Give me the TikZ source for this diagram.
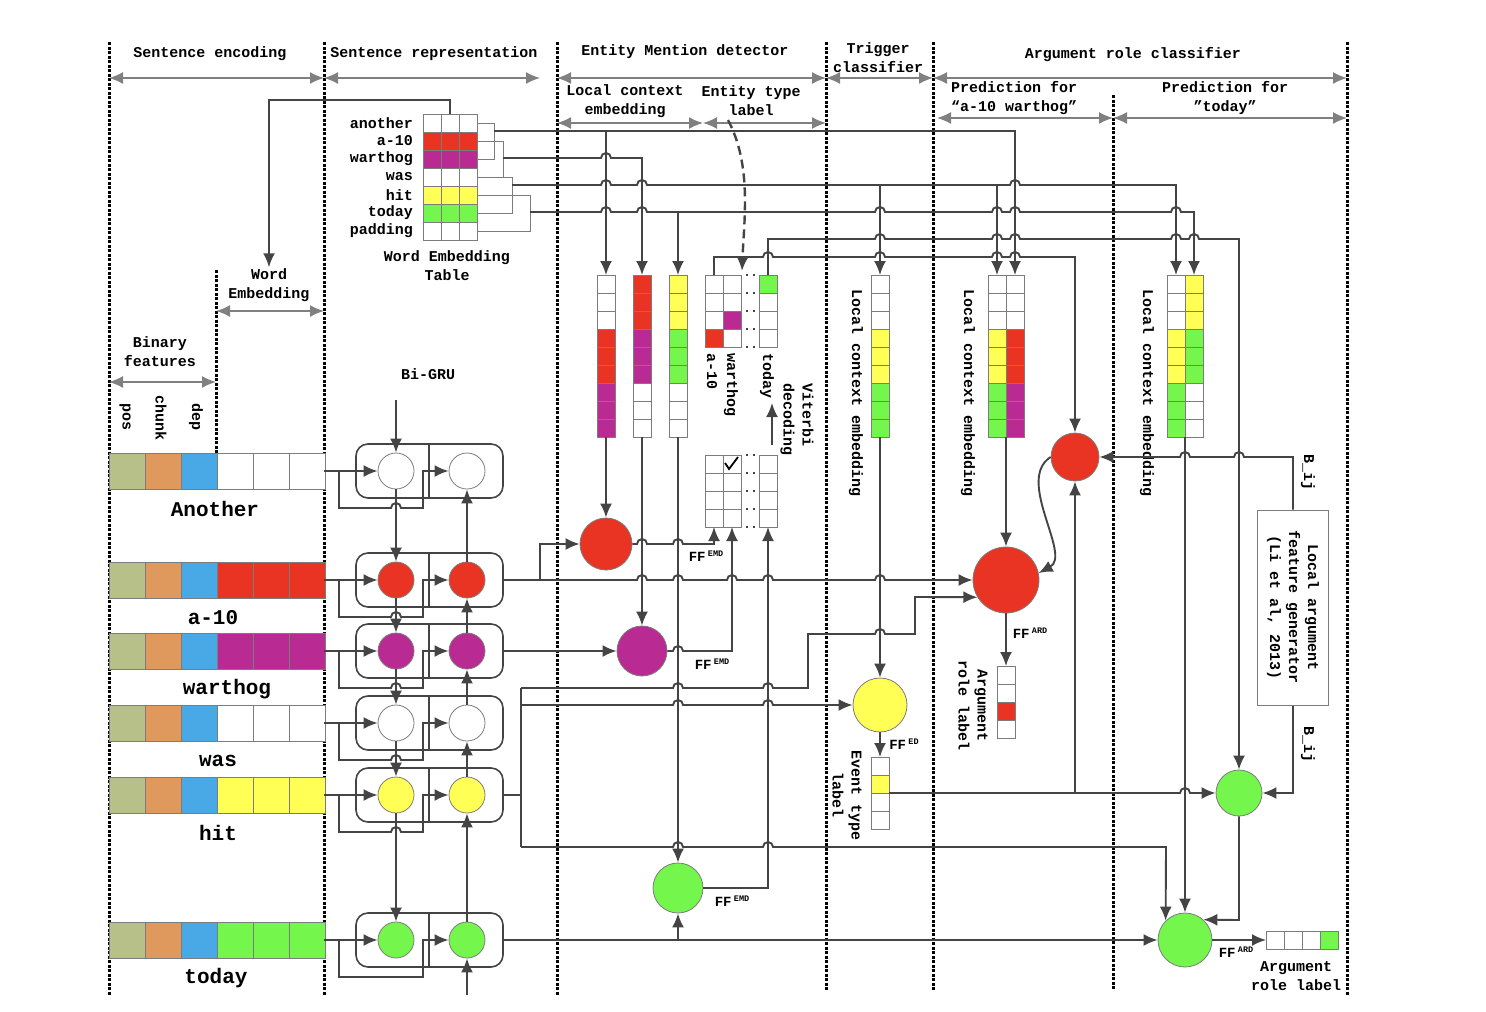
\documentclass[tikz,border=0pt]{standalone}
\usepackage{fontspec}
\setmainfont{Liberation Mono}
\usetikzlibrary{arrows.meta}

\definecolor{lk}{HTML}{444444}
\definecolor{sp}{HTML}{808080}
\definecolor{cl}{HTML}{7C7C7C}
\definecolor{cW}{HTML}{FFFFFF}
\definecolor{cR}{HTML}{E93423}
\definecolor{cM}{HTML}{B92A92}
\definecolor{cY}{HTML}{FFFF55}
\definecolor{cG}{HTML}{74F64C}
\definecolor{cO}{HTML}{B6C088}
\definecolor{cOr}{HTML}{E0995C}
\definecolor{cB}{HTML}{48A9E6}

% hop over a vertical line, going right / going left
\newcommand{\hopr}[2]{-- (#1-5,#2) arc[start angle=180,end angle=0,radius=5pt]}
\newcommand{\hopl}[2]{-- (#1+5,#2) arc[start angle=0,end angle=180,radius=5pt]}
% column of 18pt cells: name, x, top, number, colours
\newcommand{\vbar}[5]{%
  \foreach \col [count=\kk from 0] in {#5}
    {\draw[cell, fill=\col] (#2-9,#3+18*\kk) rectangle ++(18,18);}
  \node[slot, minimum height=18*#4] (#1) at (#2,#3+9*#4) {};
}
\newcommand{\fflab}[1]{FF\,\raisebox{5pt}{\fontsize{8.5}{8.5}\selectfont #1}}

\begin{document}
\begin{tikzpicture}[x=1pt,y=-1pt,>={Latex[length=14pt,width=12pt]},
  conn/.style={draw=lk,line width=1.9pt},
  arr/.style={conn,->},
  span/.style={draw=sp,line width=1.6pt,<->},
  sep/.style={line width=3pt,dash pattern=on 3pt off 1.5pt},
  cell/.style={draw=cl,line width=0.9pt},
  brk/.style={draw=cl,line width=0.9pt},
  slot/.style={minimum width=18pt,inner sep=0pt,outer sep=0pt},
  lbl/.style={font=\bfseries\fontsize{15}{19}\selectfont,align=center,inner sep=1pt},
  rot/.style={lbl,rotate=-90},
  word/.style={font=\bfseries\fontsize{21}{24}\selectfont},
  ffl/.style={font=\bfseries\fontsize{14}{14}\selectfont,inner sep=1pt},
  grubox/.style={draw=lk,line width=1.6pt,rounded corners=12pt,minimum width=147pt,minimum height=54pt,inner sep=0pt},
  gru/.style={circle,draw=cl,line width=0.8pt,minimum size=36pt,inner sep=0pt},
  ff/.style={circle,draw=cl,line width=0.8pt,inner sep=0pt},
  fgbox/.style={draw=cl,line width=1pt,minimum width=71pt,minimum height=195pt,inner sep=0pt}]

\useasboundingbox (0,0) rectangle (1486,1012);

% separators and spans
\foreach \sx/\sa/\sb in {109/42/995, 324/42/995, 216/270/455, 557/42/995, 826/42/990, 933/42/990, 1113/95/990, 1347/42/995}
  \draw[sep] (\sx,\sa) -- (\sx,\sb);
\draw[span] (109,78) -- (324,78);
\draw[span] (324,78) -- (540,78);
\draw[span] (557,78) -- (826,78);
\draw[span] (826,78) -- (933,78);
\draw[span] (933,78) -- (1347,78);
\draw[span] (557,123) -- (703,123);
\draw[span] (703,123) -- (826,123);
\draw[span] (937,118) -- (1113,118);
\draw[span] (1113,118) -- (1347,118);
\draw[span] (216,311) -- (324,311);
\draw[span] (109,382) -- (216,382);

\node[lbl] (h1) at (210,54) {Sentence encoding};
\node[lbl] (h2) at (434,54) {Sentence representation};
\node[lbl] (h3) at (685,52) {Entity Mention detector};
\node[lbl] (h4) at (878,58) {Trigger\\classifier};
\node[lbl] (h5) at (1133,55) {Argument role classifier};
\node[lbl] (h6) at (625,101) {Local context\\embedding};
\node[lbl] (h7) at (751,101) {Entity type\\label};
\node[lbl] (h8) at (1014,98) {Prediction for\\“a-10 warthog”};
\node[lbl] (h9) at (1225,98) {Prediction for\\"today"};
\node[lbl] (lwe) at (269,285) {Word\\Embedding};
\node[lbl] (lbf) at (160,352) {Binary\\features};
\node[rot] (fpos) at (125,417) {pos};
\node[rot] (fchunk) at (161,418) {chunk};
\node[rot] (fdep) at (196,417) {dep};

% word embedding table
\foreach \col [count=\kk from 0] in {cW,cR,cM,cW,cY,cG,cW}
  \foreach \jj in {0,1,2}
    \draw[cell, fill=\col] (423+18*\jj,114+18*\kk) rectangle ++(18,18);
\node[slot, minimum width=54pt, minimum height=126pt] (wet) at (450,177) {};
\foreach \wrd [count=\kk from 0] in {another,a-10,warthog,was,hit,today,padding}
  \node[lbl, anchor=east] (wl\kk) at (414,123+18*\kk) {\wrd};
\node[lbl] (lwt) at (447,266) {Word Embedding\\Table};
\draw[brk] (477,123) -| (494,159) -- (477,159);
\draw[brk] (477,141) -| (503,177) -- (477,177);
\draw[brk] (477,177) -| (512,213) -- (477,213);
\draw[brk] (477,195) -| (530,231) -- (477,231);
\coordinate (w1) at (494,131);
\coordinate (w2) at (503,158);
\coordinate (w3) at (512,185);
\coordinate (w4) at (530,212);
\draw[arr] (wet.north) -- (450,100) -- (269,100) -- (lwe.north);

% sentence rows and Bi-GRU
\node[lbl] (lbg) at (428,374) {Bi-GRU};
\foreach \w/\y/\col/\txt/\tx/\hp in {another/471/cW/Another/215/1, aten/580/cR/a-10/213/1, warthog/651/cM/warthog/227/1, was/723/cW/was/218/1, hit/795/cY/hit/218/1, today/940/cG/today/216/0} {
  \foreach \cc [count=\kk from 0] in {cO,cOr,cB,\col,\col,\col}
    \draw[cell, fill=\cc] (109+36*\kk,\y-18) rectangle ++(36,36);
  \coordinate (in-\w) at (324,\y);
  \node[word] (t-\w) at (\tx,\y+38) {\txt};
  \node[grubox] (box-\w) at (429.5,\y) {};
  \draw[lk, line width=1.4pt] (429,\y-27) -- (429,\y+27);
  \node[gru, fill=\col] (gl-\w) at (396,\y) {};
  \node[gru, fill=\col] (gr-\w) at (467,\y) {};
  \draw[arr] (in-\w) -- (gl-\w);
  \ifnum\hp=1
    \draw[arr] (339,\y) -- (339,\y+37) \hopr{396}{\y+37} -- (423,\y+37) -- (423,\y) -- (gr-\w);
  \else
    \draw[arr] (339,\y) -- (339,\y+37) -- (423,\y+37) -- (423,\y) -- (gr-\w);
  \fi
}
\coordinate (bitop) at (396,400);
\coordinate (bibot) at (467,995);
\draw[arr] (bitop) -- (gl-another);
\foreach \pa/\pb in {another/aten, aten/warthog, warthog/was, was/hit, hit/today} {
  \draw[arr] (gl-\pa) -- (gl-\pb);
  \draw[arr] (gr-\pb) -- (gr-\pa);
}
\draw[arr] (bibot) -- (gr-today);

% entity mention detector
\vbar{e1}{606}{275}{9}{cW,cW,cW,cR,cR,cR,cM,cM,cM}
\vbar{e2}{642}{275}{9}{cR,cR,cR,cM,cM,cM,cW,cW,cW}
\vbar{e3}{678}{275}{9}{cY,cY,cY,cG,cG,cG,cW,cW,cW}
\vbar{l1}{714}{275}{4}{cW,cW,cW,cR}
\vbar{l2}{732}{275}{4}{cW,cW,cM,cW}
\vbar{l3}{768}{275}{4}{cG,cW,cW,cW}
\vbar{v1}{714}{455}{4}{cW,cW,cW,cW}
\vbar{v2}{732}{455}{4}{cW,cW,cW,cW}
\vbar{v3}{768}{455}{4}{cW,cW,cW,cW}
\foreach \yy in {275,293,311,329,347,455,473,491,509,527}
  \draw[lk, line width=1.8pt, dash pattern=on 1.8pt off 5pt] (746,\yy) -- (755,\yy);
\draw[line width=1.8pt] (725,463) -- (729,469) -- (738,457);
\node[rot, anchor=west] (la) at (712,352) {a-10};
\node[rot, anchor=west] (lw) at (731,352) {warthog};
\node[rot, anchor=west] (lt) at (767,352) {today};
\node[rot, align=left] (lvit) at (797,420) {Viterbi\\decoding};
\coordinate (vfrom) at (772,445);
\coordinate (vto) at (772,403);
\draw[arr] (vfrom) -- (vto);
\coordinate (dstart) at (728,120);
\coordinate (dtip) at (742,271);
\draw[arr, line width=2.4pt, dash pattern=on 9pt off 5pt] (dstart) .. controls (752,165) and (744,220) .. (dtip);

\node[ff, fill=cR, minimum size=52pt] (ered) at (606,544) {};
\node[ff, fill=cM, minimum size=50pt] (emag) at (642,651) {};
\node[ff, fill=cG, minimum size=50pt] (egrn) at (678,888) {};
\node[ffl] (ffe1) at (706,556) {\fflab{EMD}};
\node[ffl] (ffe2) at (712,664) {\fflab{EMD}};
\node[ffl] (ffe3) at (732,901) {\fflab{EMD}};

% trigger classifier
\vbar{t1}{880}{275}{9}{cW,cW,cW,cY,cY,cY,cG,cG,cG}
\vbar{ev}{880}{757}{4}{cW,cY,cW,cW}
\node[rot] (lce1) at (856,393) {Local context embedding};
\node[ff, fill=cY, minimum size=54pt] (tyel) at (880,705) {};
\node[ffl] (ffed) at (904,744) {\fflab{ED}};
\node[rot] (lev) at (847,795) {Event type\\label};

% argument role classifier
\vbar{a1}{997}{275}{9}{cW,cW,cW,cY,cY,cY,cG,cG,cG}
\vbar{a2}{1015}{275}{9}{cW,cW,cW,cR,cR,cR,cM,cM,cM}
\vbar{al}{1006}{666}{4}{cW,cW,cR,cW}
\vbar{d1}{1176}{275}{9}{cW,cW,cW,cY,cY,cY,cG,cG,cG}
\vbar{d2}{1194}{275}{9}{cY,cY,cY,cG,cG,cG,cW,cW,cW}
\foreach \col [count=\kk from 0] in {cW,cW,cW,cG}
  \draw[cell, fill=\col] (1266+18*\kk,931) rectangle ++(18,18);
\node[slot, minimum width=72pt, minimum height=18pt] (hl) at (1302,940) {};
\node[rot] (lce2) at (968,393) {Local context embedding};
\node[rot] (lce3) at (1147,393) {Local context embedding};
\node[ff, fill=cR, minimum size=66pt] (bred) at (1006,580) {};
\node[ff, fill=cR, minimum size=48pt] (sred) at (1075,457) {};
\node[ff, fill=cG, minimum size=46pt] (sgrn) at (1239,793) {};
\node[ff, fill=cG, minimum size=54pt] (bgrn) at (1185,940) {};
\node[ffl] (ffa1) at (1030,633) {\fflab{ARD}};
\node[ffl] (ffa2) at (1236,952) {\fflab{ARD}};
\node[rot] (lar1) at (973,705) {Argument\\role label};
\node[lbl] (lar2) at (1296,976) {Argument\\role label};
\node[fgbox] (fg) at (1293,607.5) {};
\node[rot] (fgt) at (fg) {Local argument\\feature generator\\(Li et al, 2013)};
\node[rot] (bij1) at (1308,472) {B\_ij};
\node[rot] (bij2) at (1308,744) {B\_ij};

% word windows to the local context embeddings
\draw[arr] (w1) -- (1015,131) -- (a2.north);
\draw[arr] (606,131) -- (e1.north);
\draw[arr] (w2) \hopr{606}{158} -- (642,158) -- (e2.north);
\draw[arr] (w3) \hopr{606}{185} \hopr{642}{185} \hopr{1015}{185} -- (1176,185) -- (d1.north);
\draw[arr] (880,185) -- (t1.north);
\draw[arr] (997,185) -- (a1.north);
\draw[arr] (w4) \hopr{606}{212} \hopr{642}{212} \hopr{880}{212} \hopr{997}{212} \hopr{1015}{212} \hopr{1176}{212} -- (1194,212) -- (d2.north);
\draw[arr] (678,212) -- (e3.north);
\draw[arr] (l3.north) -- (768,239) \hopr{880}{239} \hopr{997}{239} \hopr{1015}{239} \hopr{1176}{239} \hopr{1194}{239} -- (1239,239) -- (sgrn);
\draw[arr] (l1.north) -- (714,257) \hopr{768}{257} \hopr{880}{257} \hopr{997}{257} \hopr{1015}{257} -- (1075,257) -- (sred);

% entity mention connectors
\draw[arr] (e1.south) -- (ered);
\draw[arr] (e2.south) -- (emag);
\draw[arr] (e3.south) -- (egrn);
\draw[arr] (ered) \hopr{642}{544} \hopr{678}{544} -- (714,544) -- (v1.south);
\draw[arr] (emag) \hopr{678}{651} -- (732,651) -- (v2.south);
\draw[arr] (egrn) -- (768,888) -- (v3.south);

% sentence representation outputs
\draw[arr] (box-aten.east) \hopr{642}{580} \hopr{678}{580} \hopr{732}{580} \hopr{768}{580} \hopr{880}{580} -- (bred);
\draw[arr] (540,580) -- (540,544) -- (ered);
\draw[arr] (box-warthog.east) -- (emag);
\draw[conn] (box-hit.east) -- (521,795);
\draw[conn] (521,688) -- (521,847);
\draw[arr] (521,688) \hopr{678}{688} \hopr{768}{688} -- (808,688) -- (808,634) \hopr{880}{634} -- (915,634) -- (915,597) -- (bred.211);
\draw[arr] (521,705) \hopr{678}{705} \hopr{768}{705} -- (tyel);
\draw[arr] (521,847) \hopr{678}{847} \hopr{768}{847} -- (1166,847) -- (bgrn.135);
\draw[arr] (box-today.east) -- (bgrn);
\draw[arr] (678,940) -- (egrn);

% trigger and argument connectors
\draw[arr] (t1.south) -- (tyel);
\draw[arr] (tyel) -- (ev.north);
\draw[arr] (ev.east) \hopr{1185}{793} -- (sgrn);
\draw[arr] (1075,793) -- (sred);
\draw[arr] (a1.south east) -- (bred);
\draw[arr] (bred) -- (al.north);
\draw[arr] (sred.west) .. controls (1015,480) and (1072,555) .. (bred.12);
\draw[arr] (fg.north) -- (1293,457) \hopl{1239}{457} \hopl{1185}{457} -- (sred);
\draw[arr] (fg.south) -- (1293,793) -- (sgrn);
\draw[arr] (sgrn) -- (1239,920) -- (bgrn.48);
\draw[arr] (d1.south east) -- (bgrn);
\draw[arr] (bgrn) -- (hl.west);
\end{tikzpicture}
\end{document}
